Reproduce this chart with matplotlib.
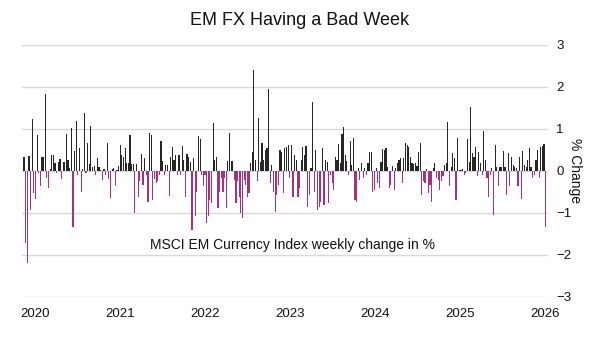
import matplotlib
matplotlib.use("Agg")
import matplotlib.pyplot as plt
import numpy as np
import pandas as pd

plt.rcParams['font.family'] = ['Liberation Sans', 'DejaVu Sans']

# Weekly % change, MSCI EM Currency Index (left to right)
seg1 = [0.34, -1.72, -2.2, 0.36, -0.93, 1.23, -0.53, -0.67, 0.86, -0.05, -0.37, 0.32, 0.32,
        1.82, -0.17, -0.41, 0.05, 0.38, 0.38, 0.2, -0.05, 0.22, 0.28, -0.2, 0.22]
seg2 = [0.22, 0.88, 0.26, 0.08, 1.03, -1.33, 0.48, 1.19, -0.1, 0.55, -0.49, 0.05, 1.39, -0.05,
        0.67, 0.16, 1.08, 0.1, 0.12, -0.1, 0.3, 0.1, 0.03, -0.21, 0.04, -0.1, 0.66]
seg3 = [-0.2, -0.65, 0.05, 0.08, -0.37, 0.03, 0.12, 0.62, 0.38, 0.34, 0.54, 0.18, 0.18, 0.86,
        0.17, 0.17, -1.0, 0.17, -0.61, -0.25, 0.4, -0.33, 0.3, -0.1, -0.73, 0.91]
seg4 = [0.86, -0.69, -0.2, -0.28, -0.25, -0.1, 0.71, 0.24, -0.1, 0.14, 0.14, -0.6, 0.34, 0.58,
        0.26, 0.38, -0.1, 0.38, -0.1, 0.6, 0.26, -0.63, 0.4, 0.34, 0.22, -1.4]
seg5 = [0.3, -1.08, -0.49, 0.82, 0.75, -0.1, -0.37, -0.1, -1.25, -1.08, -0.69, -0.77, 1.15,
        0.26, 0.34, -0.89, -0.49, -0.17, -0.49, -0.17, -0.89, 0.24, 0.91, 0.24, 0.24, -0.21, -0.77]
seg6 = [-0.25, -0.61, -1.0, -1.13, -0.21, -0.33, -0.61, -0.53, 0.18, 0.46, 2.4, 0.26, -0.25,
        1.25, 0.22, 0.67, 0.26, 0.5, 0.54, 1.94, -0.29, 0.14, -0.49, -0.97, -0.57, -0.33, 0.5]
seg7 = [0.46, -0.53, 0.54, 0.56, 0.62, -0.17, 0.62, -0.61, 0.38, 0.26, -0.61, -0.41, 0.26,
        0.58, 0.38, 0.6, -0.85, -0.57, 0.06, 1.63, -0.49, 0.5, -0.93, -0.85, -0.73, 0.54, -0.81, 0.26]
seg8 = [0.22, -0.77, -0.1, -0.29, -0.45, 0.34, 0.26, 0.64, 0.18, 0.87, 1.05, 0.38, 0.24,
        -0.1, 0.72, 0.14, 0.78, -0.69, -0.73, 0.06, -0.21, 0.18, -0.17, 0.06, -0.1, 0.18, 0.44]
seg9 = [0.44, -0.5, -0.45, 0.06, -0.29, -0.41, 0.22, 0.52, 0.5, 0.54, 0.1, -0.41, -0.33, 0.12,
        -0.45, 0.06, 0.18, 0.26, 0.3, -0.29, 0.3, 0.67, 0.62, 0.56, 0.34, 0.18, 0.17, 0.18]
seg10 = [0.12, 0.46, 0.66, -0.57, -0.25, -0.29, 0.04, -0.53, -0.33, -0.73, 0.06, 0.2, -0.17,
         -0.21, -0.45, -0.25, -0.13, 0.14, 0.18, 1.17, -0.37, 0.1, 0.42, 0.3, -0.69, 0.78, 0.02]
seg11 = [0.02, 0.04, -0.1, -0.06, 0.75, 0.22, 1.53, 0.42, 0.34, 0.56, -0.13, 0.46, 0.18, -0.1,
         0.96, 0.26, -0.17, -0.61, -0.1, 0.06, -1.05, 0.62, 0.09, -0.37, 0.1, 0.1, 0.48, 0.1]
seg12 = [-0.57, 0.42, -0.37, 0.34, 0.14, 0.1, 0.06, -0.37, 0.34, -0.67, 0.48, 0.14, 0.1, 0.26,
         0.54, 0.1, -0.17, -0.1, 0.26, 0.5, -0.17, 0.56, 0.6, 0.64, -1.34]

values = np.array(seg1 + seg2 + seg3 + seg4 + seg5 + seg6 + seg7 + seg8 + seg9 + seg10 + seg11 + seg12)
dates = pd.date_range(end='2026-01-02', periods=len(values), freq='W-FRI')

y_ticks = [-3, -2, -1, 0, 1, 2, 3]
year_ticks = [str(y) for y in range(2020, 2027)]

pos_color = '#262626'
neg_color = '#a6317f'

fig = plt.figure(figsize=(6.0, 3.51), dpi=100)
ax = fig.add_axes([0.037, 0.154, 0.876, 0.718])

colors = [pos_color if v >= 0 else neg_color for v in values]
ax.bar(dates, values, width=5.0, color=colors, linewidth=0, zorder=3)

ax.set_ylim(-3, 3)
ax.set_xlim(dates[0] - pd.Timedelta(days=8), dates[-1] + pd.Timedelta(days=9))
ax.set_yticks(y_ticks)
ax.yaxis.tick_right()
ax.yaxis.set_label_position('right')
ax.set_ylabel('% Change', rotation=-90, labelpad=8, fontsize=10, color='#111111')
ax.tick_params(axis='y', length=0, labelsize=9.5, pad=6, colors='#111111')
ax.set_xticks([pd.Timestamp(f'{y}-01-01') for y in year_ticks])
ax.set_xticklabels(year_ticks)
ax.tick_params(axis='x', length=0, labelsize=9.5, pad=8, colors='#111111')
ax.grid(axis='y', color='#d9d9d9', linewidth=1.0, zorder=0)
for s in ax.spines.values():
    s.set_visible(False)

ax.text(0.243, 0.205, 'MSCI EM Currency Index weekly change in %', transform=ax.transAxes,
        fontsize=10, color='#111111', va='center', ha='left')
fig.suptitle('EM FX Having a Bad Week', x=0.5, y=0.965, fontsize=13, color='#111111')

fig.savefig('out.png', dpi=100)
